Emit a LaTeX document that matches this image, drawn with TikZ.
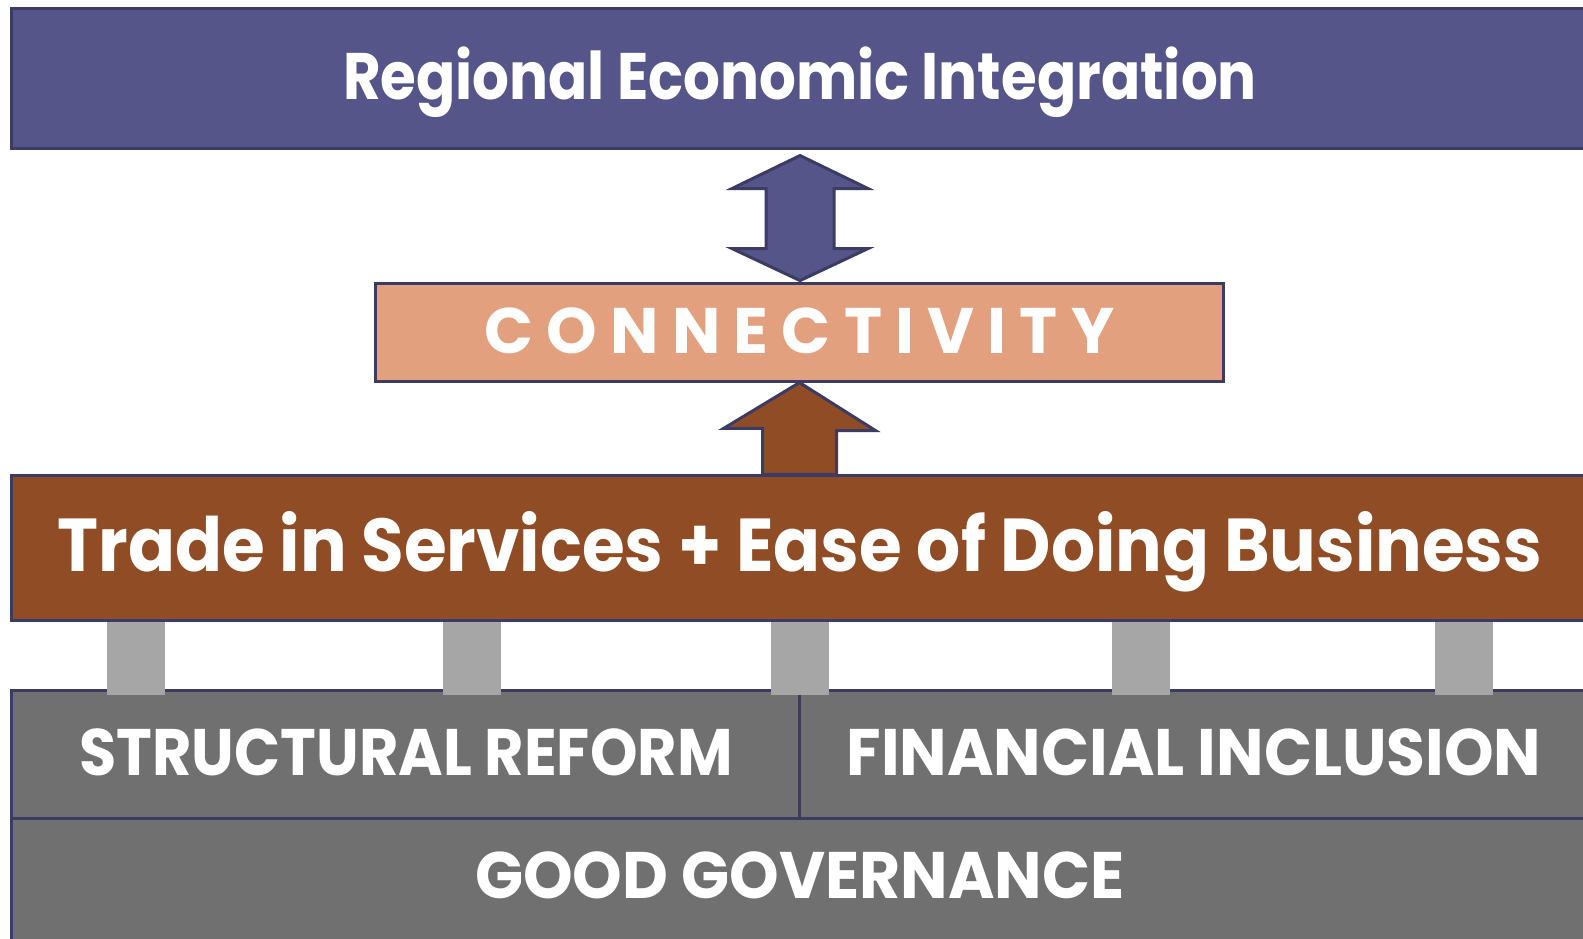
\documentclass[tikz,border=0pt]{standalone}
\usepackage{fontspec}
\setmainfont{Poppins}
\definecolor{reiblue}{RGB}{85, 85, 138}
\definecolor{rimline}{RGB}{59, 59, 99}
\definecolor{connpeach}{RGB}{226, 160, 126}
\definecolor{tradebrown}{RGB}{144, 76, 36}
\definecolor{basegray}{RGB}{112, 112, 112}
\definecolor{pillargray}{RGB}{166, 166, 166}
\usetikzlibrary{positioning, calc}
\tikzset{
    layerbox/.style={rectangle, draw=rimline, line width=0.03cm, inner sep=0pt, text=white,
                     font=\bfseries\fontsize{18.7}{20}\selectfont\addfontfeature{FakeStretch=0.96},
                     text height=0.46cm, text depth=0.05cm},
    topbox/.style={layerbox, fill=reiblue, minimum width=15.76cm, minimum height=1.39cm,
                   font=\bfseries\fontsize{18.7}{20}\selectfont\addfontfeature{FakeStretch=0.88}},
    connbox/.style={layerbox, fill=connpeach, minimum width=8.47cm, minimum height=0.97cm,
                    font=\bfseries\fontsize{18.3}{20}\selectfont\addfontfeature{LetterSpace=20.5}},
    tradebox/.style={layerbox, fill=tradebrown, minimum width=15.76cm, minimum height=1.44cm,
                     font=\bfseries\fontsize{21.3}{24}\selectfont\addfontfeature{FakeStretch=0.925},
                     text height=0.52cm},
    basebox/.style={layerbox, fill=basegray, minimum width=7.88cm, minimum height=1.28cm},
    pillar/.style={rectangle, fill=pillargray, minimum width=0.58cm, minimum height=0.73cm, inner sep=0pt},
    bigarrow/.style={draw=rimline, line width=0.03cm, line join=miter},
}
\begin{document}
\begin{tikzpicture}[x=0.01cm, y=-0.01cm]
    \fill[white] (0,0) rectangle (1583,938);
    \useasboundingbox (0,0) rectangle (1583,938);
    \clip (0,0) rectangle (1583,938);

    \node[topbox] (rei) at (800, 78.5) {Regional Economic Integration};
    \node[connbox] (conn) at (799.5, 332.5) {CONNECTIVITY};
    \node[tradebox] (trade) at (800, 548) {Trade in Services + Ease of Doing Business};
    \node[basebox, font=\bfseries\fontsize{18.7}{20}\selectfont\addfontfeature{FakeStretch=0.92}] (reform) at (406, 755) {STRUCTURAL REFORM};
    \node[basebox] (finance) at (1194, 755) {FINANCIAL INCLUSION};
    \node[basebox, minimum width=15.76cm, minimum height=1.24cm, text depth=0.12cm] (gov) at (800, 881) {GOOD GOVERNANCE};

    % pillars between trade and the base
    \foreach \px [count=\i] in {136, 472, 800, 1141, 1464}
        \node[pillar] (pillar\i) at (\px, 658.5) {};

    % arrows
    \draw[bigarrow, fill=reiblue] ($(rei.south)+(0,6)$) -- ++(68,33) -- ++(-34,0) -- ++(0,60) -- ++(34,0)
        -- ++(-68,32) -- ++(-68,-32) -- ++(34,0) -- ++(0,-60) -- ++(-34,0) -- cycle;
    \draw[bigarrow, fill=tradebrown] (conn.south) -- ++(76,48) -- ++(-39,0) -- (trade.north -| {$(conn.south)+(37,0)$})
        -- (trade.north -| {$(conn.south)+(-37,0)$}) -- ++(0,-46) -- ++(-39,0) -- cycle;
\end{tikzpicture}
\end{document}
